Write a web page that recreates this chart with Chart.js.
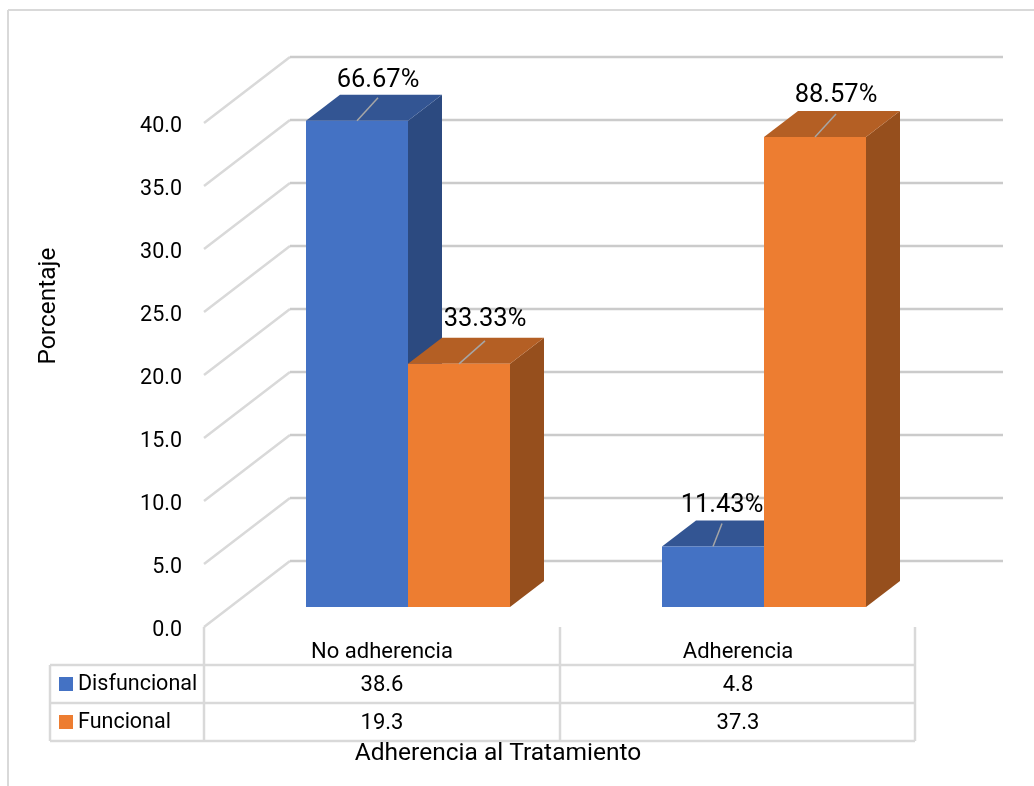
<!DOCTYPE html>
<html lang="es">
<head>
    <meta charset="UTF-8">
    <title>Adherencia al Tratamiento</title>
    <style>
        html, body { margin: 0; padding: 0; background: #fff; }
        #chartContainer { width: 1034px; height: 786px; }
    </style>
    <script src="https://cdn.jsdelivr.net/npm/chart.js"></script>
</head>
<body>
    <div id="chartContainer">
        <canvas id="adherenciaChart"></canvas>
    </div>

    <script>
        // Datos del gráfico
        const categorias = ['No adherencia', 'Adherencia'];
        const disfuncional = [38.6, 4.8];
        const funcional = [19.3, 37.3];
        const pctDisfuncional = ['66.67%', '11.43%'];
        const pctFuncional = ['33.33%', '88.57%'];
        const tituloY = 'Porcentaje';
        const tituloX = 'Adherencia al Tratamiento';

        const FONT = 'Roboto, sans-serif';
        const GRID = '#cbcbcb';
        const TABLE_LINE = '#d9d9d9';
        // Profundidad de las barras y de la pared del fondo
        const BAR_DX = 34, BAR_DY = -26;
        const WALL_X = 204, BACK_X = 290, WALL_END = 1003;
        const TABLE_LEFT = 50, TABLE_RIGHT = 915;
        const FRONT_OFFSET = 20, BACK_OFFSET = -46;
        const LABEL_SHIFT = -26;
        const ROW_Y = [665, 703, 741];

        const caras = [
            { top: '#335593', side: '#2c4a80' },
            { top: '#b45f24', side: '#964f1d' }
        ];
        // Línea guía de cada etiqueta (desplazamiento x) y altura del texto, por serie
        const guias = [[21, 9], [26, 21]];
        const alturas = [[40, 41], [44, 41]];

        function linea(ctx, x1, y1, x2, y2, color, ancho) {
            ctx.strokeStyle = color;
            ctx.lineWidth = ancho;
            ctx.beginPath();
            ctx.moveTo(x1, y1);
            ctx.lineTo(x2, y2);
            ctx.stroke();
        }

        function cara(ctx, puntos, color) {
            ctx.fillStyle = color;
            ctx.beginPath();
            puntos.forEach((p, i) => i ? ctx.lineTo(p[0], p[1]) : ctx.moveTo(p[0], p[1]));
            ctx.closePath();
            ctx.fill();
        }

        function texto(ctx, str, x, y, size, align) {
            ctx.fillStyle = '#000';
            ctx.font = size + 'px ' + FONT;
            ctx.textAlign = align || 'center';
            ctx.textBaseline = 'middle';
            ctx.fillText(str, x, y);
        }

        // Marco, pared del fondo, líneas diagonales y tabla de datos
        const fondo3d = {
            id: 'fondo3d',
            beforeDatasetsDraw(chart) {
                const { ctx, scales: { y } } = chart;
                ctx.save();
                linea(ctx, 8, 10, 1034, 10, TABLE_LINE, 2);
                linea(ctx, 8, 10, 8, 786, TABLE_LINE, 2);

                y.ticks.forEach(t => {
                    const py = y.getPixelForValue(t.value);
                    linea(ctx, WALL_X, py + FRONT_OFFSET, BACK_X, py + BACK_OFFSET, TABLE_LINE, 2.5);
                    linea(ctx, BACK_X, py + BACK_OFFSET, WALL_END, py + BACK_OFFSET, GRID, 2.5);
                });

                // Caras laterales y superiores, serie por serie
                chart.data.datasets.forEach((ds, i) => {
                    chart.getDatasetMeta(i).data.forEach(bar => {
                        const left = bar.x - bar.width / 2;
                        const right = bar.x + bar.width / 2;
                        cara(ctx, [[right, bar.y], [right + BAR_DX, bar.y + BAR_DY],
                            [right + BAR_DX, bar.base + BAR_DY], [right, bar.base]], caras[i].side);
                        cara(ctx, [[left, bar.y], [left + BAR_DX, bar.y + BAR_DY],
                            [right + BAR_DX, bar.y + BAR_DY], [right, bar.y]], caras[i].top);
                    });
                });
                ctx.restore();
            },
            afterDatasetsDraw(chart) {
                const { ctx, scales: { x, y } } = chart;
                ctx.save();

                // Líneas guía y porcentajes
                [pctDisfuncional, pctFuncional].forEach((pct, i) => {
                    chart.getDatasetMeta(i).data.forEach((bar, j) => {
                        const dx = guias[i][j];
                        linea(ctx, bar.x, bar.y, bar.x + dx, bar.y + BAR_DY + 3, '#a6a6a6', 1.5);
                        texto(ctx, pct[j], bar.x + dx, bar.y - alturas[i][j], 25.5);
                    });
                });

                // Tabla de datos bajo el eje
                const centro = (x.getPixelForValue(0) + x.getPixelForValue(1)) / 2 + LABEL_SHIFT;
                const base = y.getPixelForValue(0) + FRONT_OFFSET;
                ROW_Y.forEach(ry => linea(ctx, TABLE_LEFT, ry, TABLE_RIGHT, ry, TABLE_LINE, 2.5));
                linea(ctx, TABLE_LEFT, ROW_Y[0], TABLE_LEFT, ROW_Y[2], TABLE_LINE, 2.5);
                [WALL_X, centro, TABLE_RIGHT].forEach(bx => linea(ctx, bx, base, bx, ROW_Y[2], TABLE_LINE, 2.5));

                chart.data.datasets.forEach((ds, i) => {
                    const cy = (ROW_Y[i] + ROW_Y[i + 1]) / 2 + 1;
                    ctx.fillStyle = ds.backgroundColor;
                    ctx.fillRect(59, cy - 8, 14, 14);
                    texto(ctx, ds.label, 78, cy, 21.5, 'left');
                    ds.data.forEach((v, j) => {
                        texto(ctx, v.toFixed(1), x.getPixelForValue(j) + LABEL_SHIFT, cy, 22);
                    });
                });

                // Títulos de los ejes
                texto(ctx, tituloX, 498, 754, 24.5);
                ctx.translate(49, 306);
                ctx.rotate(-Math.PI / 2);
                texto(ctx, tituloY, 0, 0, 24.5);
                ctx.restore();
            }
        };

        const ctx = document.getElementById('adherenciaChart').getContext('2d');
        new Chart(ctx, {
            type: 'bar',
            data: {
                labels: categorias,
                datasets: [
                    { label: 'Disfuncional', data: disfuncional, backgroundColor: '#4472c4' },
                    { label: 'Funcional', data: funcional, backgroundColor: '#ed7d31' }
                ]
            },
            options: {
                responsive: true,
                maintainAspectRatio: false,
                animation: false,
                layout: { padding: { top: 103, right: 92 } },
                plugins: { legend: { display: false }, tooltip: { enabled: false } },
                datasets: { bar: { categoryPercentage: 204 / 356, barPercentage: 1 } },
                scales: {
                    x: {
                        afterFit(scale) { scale.height = 179; },
                        grid: { display: false, drawTicks: false },
                        border: { display: false },
                        ticks: {
                            color: '#000',
                            padding: 32,
                            labelOffset: LABEL_SHIFT,
                            font: { family: FONT, size: 22 }
                        }
                    },
                    y: {
                        min: 0,
                        max: 40,
                        afterFit(scale) { scale.width = 230; },
                        grid: { display: false, drawTicks: false },
                        border: { display: false },
                        ticks: {
                            color: '#000',
                            stepSize: 5,
                            padding: 48,
                            labelOffset: FRONT_OFFSET + 4,
                            font: { family: FONT, size: 21.5 },
                            callback: v => v.toFixed(1)
                        }
                    }
                }
            },
            plugins: [fondo3d]
        });
    </script>
</body>
</html>
